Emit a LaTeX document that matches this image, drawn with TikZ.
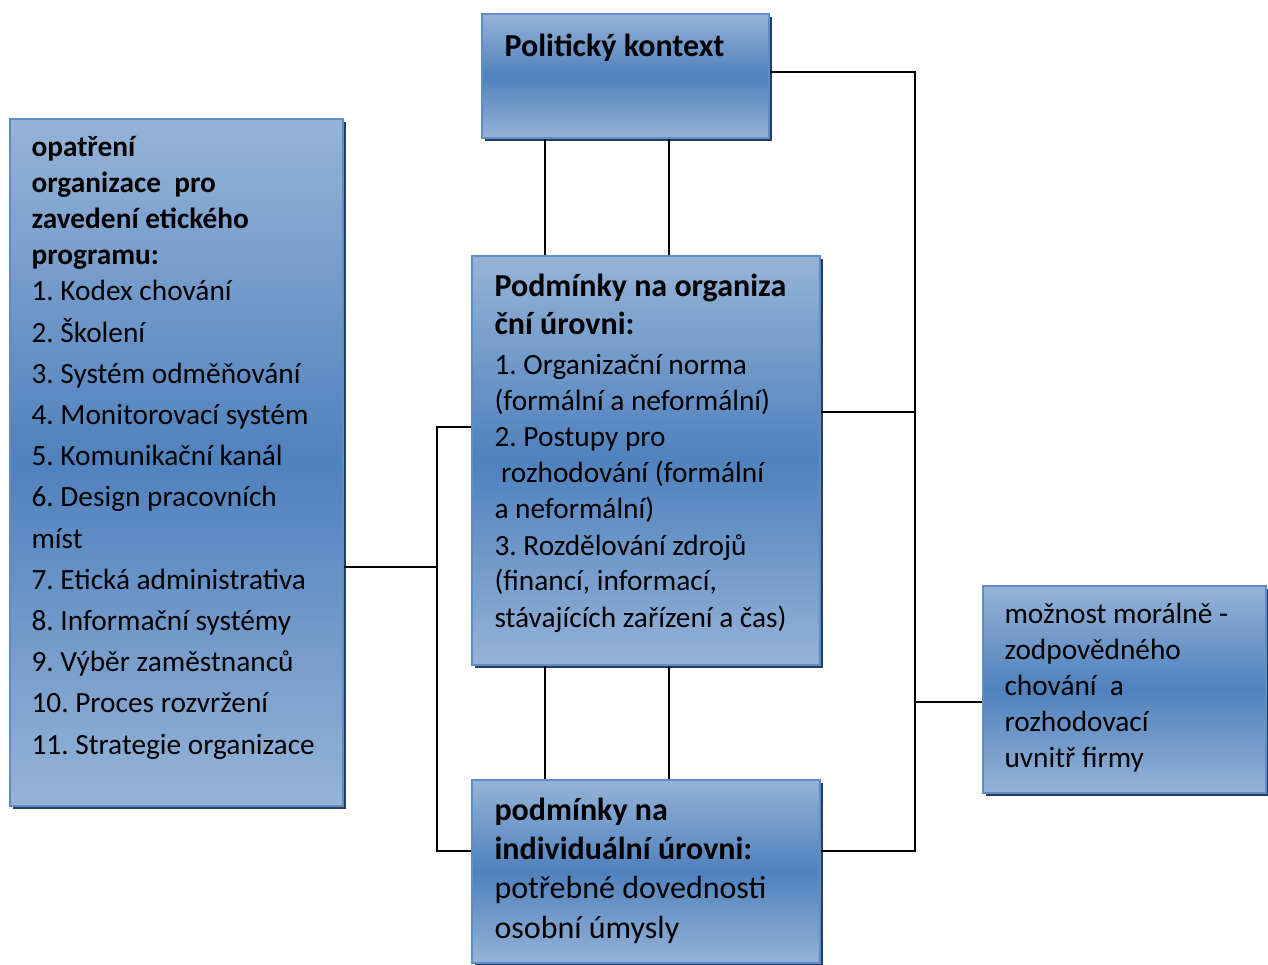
\documentclass[tikz,border=0pt]{standalone}
\usepackage{fontspec}
\setmainfont{Carlito}
\usetikzlibrary{shadows}
\definecolor{boxlight}{HTML}{95B3D7}
\definecolor{boxdark}{HTML}{4F81BD}
\definecolor{boxline}{HTML}{5F8DC8}
\definecolor{boxshadow}{HTML}{243F60}
\tikzset{
  box/.style={rectangle, draw=boxline, line width=0.8pt,
    top color=boxlight, bottom color=boxlight, middle color=boxdark,
    inner sep=0pt,
    drop shadow={shadow xshift=1.2pt, shadow yshift=-1.2pt, fill=boxshadow, opacity=1}},
  txt/.style={anchor=base west, inner sep=0pt},
  link/.style={draw=black, line width=0.75pt},
}
% top-aligned text block: the node baseline is the first line's baseline
\newcommand{\blocktext}[4]{\parbox[t]{#1}{\raggedright\frenchspacing\fontsize{#2}{#3}\selectfont #4}}
\begin{document}
\begin{tikzpicture}[x=0.375pt, y=-0.375pt]
\useasboundingbox (0,0) rectangle (1268,965);

% boxes
\node[box, minimum width=107.6pt, minimum height=46.5pt] (pk) at (625.5,76) {};
\node[box, minimum width=124.9pt, minimum height=257.6pt] (lb) at (176.5,462.5) {};
\node[box, minimum width=130.5pt, minimum height=153.4pt] (mid) at (646,460.5) {};
\node[box, minimum width=130.5pt, minimum height=68.6pt] (ind) at (646,871.5) {};
\node[box, minimum width=106.1pt, minimum height=77.6pt] (res) at (1124.5,689.5) {};

% texts
\node[txt] (pkT) at (504,57) {\fontsize{12}{14}\selectfont\bfseries Politický kontext};

\node[txt] (lbT) at (31,157) {\blocktext{120pt}{11}{13.5pt}{%
  \textbf{opatření}\\
  \textbf{organizace\ \ pro}\\
  \textbf{zavedení etického}\\
  \textbf{programu:}\\
  1. Kodex chování\\[1.95pt]
  2. Školení\\[1.95pt]
  3. Systém odměňování\\[1.95pt]
  4. Monitorovací systém\\[1.95pt]
  5. Komunikační kanál\\[1.95pt]
  6. Design pracovních\\[1.95pt]
  míst\\[1.95pt]
  7. Etická administrativa\\[1.95pt]
  8. Informační systémy\\[1.95pt]
  9. Výběr zaměstnanců\\[1.95pt]
  10. Proces rozvržení\\[1.95pt]
  11. Strategie organizace}};

\node[txt] (midT) at (494,297) {\blocktext{125pt}{11}{13.5pt}{%
  {\fontsize{12}{14}\selectfont\bfseries Podmínky na organiza}\\[0.75pt]
  {\fontsize{12}{14}\selectfont\bfseries ční úrovni:}\\[1.5pt]
  1. Organizační norma\\
  (formální a neformální)\\
  2. Postupy pro\\
  \mbox{}\ rozhodování (formální\\
  a neformální)\\
  3. Rozdělování zdrojů\\
  (financí, informací,\\
  stávajících zařízení a čas)}};

\node[txt] (indT) at (494,820) {\blocktext{125pt}{12}{14.75pt}{%
  \textbf{podmínky na}\\
  \textbf{individuální úrovni:}\\
  potřebné dovednosti\\
  osobní úmysly}};

\node[txt] (resT) at (1004,623) {\blocktext{100pt}{11}{13.5pt}{%
  možnost morálně -\\
  zodpovědného\\
  chování\ \ a\\
  rozhodovací\\
  uvnitř firmy}};

% junction points
\coordinate (va) at (545,0);
\coordinate (vb) at (669,0);
\coordinate (jl) at (437,567);
\coordinate (jlt) at (437,427);
\coordinate (jlb) at (437,851);
\coordinate (jrt) at (915,72);
\coordinate (jrm) at (915,412);
\coordinate (jrr) at (915,702);
\coordinate (jrb) at (915,851);

% vertical links between the centre column boxes
\draw[link] (pk.south -| va) -- (mid.north -| va);
\draw[link] (pk.south -| vb) -- (mid.north -| vb);
\draw[link] (mid.south -| va) -- (ind.north -| va);
\draw[link] (mid.south -| vb) -- (ind.north -| vb);

% left bus
\draw[link] (lb.east |- jl) -- (jl);
\draw[link] (mid.west |- jlt) -- (jlt) -- (jlb) -- (ind.west |- jlb);

% right bus
\draw[link] (pk.east |- jrt) -- (jrt) -- (jrb) -- (ind.east |- jrb);
\draw[link] (mid.east |- jrm) -- (jrm);
\draw[link] (jrr) -- (res.west |- jrr);
\end{tikzpicture}
\end{document}
